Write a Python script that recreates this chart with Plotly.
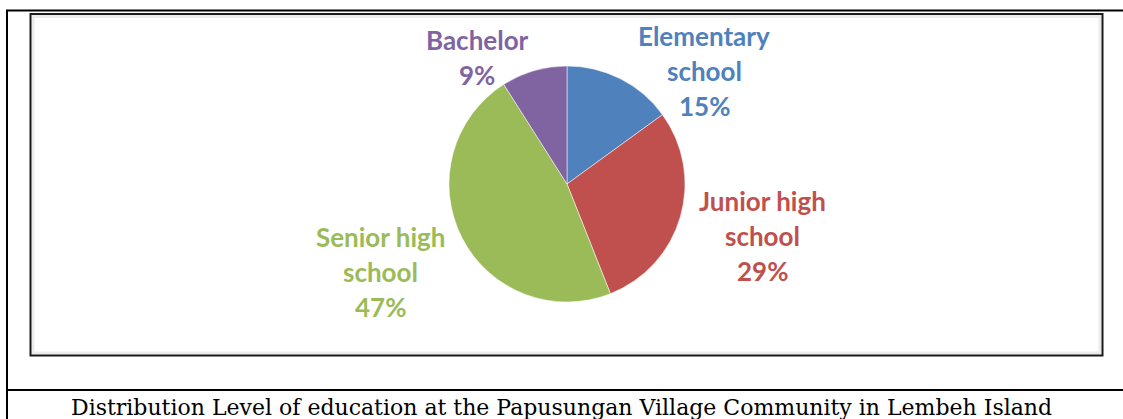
import plotly.graph_objects as go

# Education level shares (percent), clockwise from 12 o'clock
categories = ["Elementary school", "Junior high school", "Senior high school", "Bachelor"]
shares = [15, 29, 47, 9]
colors = ["#4F81BD", "#C0504D", "#9BBB59", "#8064A2"]
caption = "Distribution Level of education at the Papusungan Village Community in Lembeh Island"

W, H = 1123, 419

# Pie placement in pixels: centre and radius
CX, CY, R = 567, 184, 118

# Label anchors (centre x, first baseline y) in pixels, one per category
label_anchor = [(704, 46), (762, 211), (380, 247), (477, 50)]
LINE_PITCH = 35
LABEL_SIZE = 26


def px(x):
    return x / W


def py(y):
    return 1 - y / H


fig = go.Figure(
    go.Pie(
        labels=categories,
        values=shares,
        sort=False,
        direction="clockwise",
        rotation=0,
        marker=dict(colors=colors, line=dict(color="white", width=0.5)),
        textinfo="none",
        hoverinfo="label+percent",
        showlegend=False,
        domain=dict(x=[px(CX - R), px(CX + R)], y=[py(CY + R), py(CY - R)]),
    )
)

annotations = []
for name, value, color, (ax, ay) in zip(categories, shares, colors, label_anchor):
    lines = name.rsplit(" ", 1) if name.count(" ") >= 1 else [name]
    lines = lines + [f"{value}%"]
    for i, line in enumerate(lines):
        base = ay + i * LINE_PITCH
        # middle of the text box sits ~0.39em above the baseline for Lato
        mid = base - 0.39 * LABEL_SIZE
        annotations.append(
            dict(
                x=px(ax), y=py(mid), xref="paper", yref="paper",
                text=line, showarrow=False, xanchor="center", yanchor="middle",
                font=dict(family="Lato", size=LABEL_SIZE, color=color, weight="bold"),
            )
        )

annotations.append(
    dict(
        x=px(561), y=py(407), xref="paper", yref="paper",
        text=caption, showarrow=False, xanchor="center", yanchor="middle",
        font=dict(family="DejaVu Serif", size=22, color="#000000"),
    )
)

shapes = [
    # outer table frame: top, left, caption separator
    dict(type="line", xref="paper", yref="paper", x0=px(6), x1=1, y0=py(10.5), y1=py(10.5),
         line=dict(color="black", width=2.2)),
    dict(type="line", xref="paper", yref="paper", x0=px(7), x1=px(7), y0=py(10), y1=0,
         line=dict(color="black", width=2)),
    dict(type="line", xref="paper", yref="paper", x0=px(6), x1=1, y0=py(390), y1=py(390),
         line=dict(color="black", width=2.2)),
    # soft inner shadow of the chart frame
    dict(type="rect", xref="paper", yref="paper", x0=px(33), x1=px(1100), y0=py(353), y1=py(16.5),
         line=dict(color="#ececec", width=3)),
    # chart frame
    dict(type="rect", xref="paper", yref="paper", x0=px(30.5), x1=px(1102.5), y0=py(355.5), y1=py(14),
         line=dict(color="#1a1a1a", width=2)),
]

fig.update_layout(
    width=W, height=H,
    margin=dict(l=0, r=0, t=0, b=0),
    paper_bgcolor="white",
    plot_bgcolor="white",
    annotations=annotations,
    shapes=shapes,
)

fig.write_html("out.html")
